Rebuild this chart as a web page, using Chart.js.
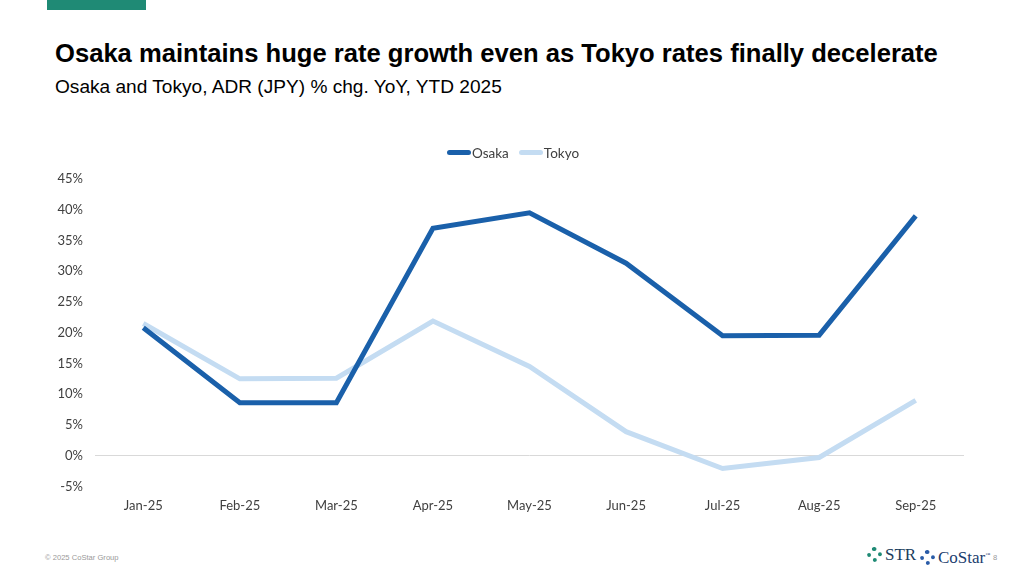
<!DOCTYPE html>
<html>
<head>
<meta charset="utf-8">
<script src="https://cdn.jsdelivr.net/npm/chart.js@4"></script>
<style>
  html, body { margin: 0; padding: 0; background: #fff; }
  body { width: 1024px; height: 576px; position: relative; overflow: hidden; font-family: "Liberation Sans", Arial, sans-serif; }
  .bar { position: absolute; left: 47px; top: 0; width: 99px; height: 10px; background: #1f8a75; }
  .title { position: absolute; left: 55px; top: 39px; font-size: 25.6px; font-weight: bold; color: #000; white-space: nowrap; }
  .subtitle { position: absolute; left: 55px; top: 76px; font-size: 19.1px; color: #000; white-space: nowrap; }
  .chartbox { position: absolute; left: 40px; top: 139px; width: 930px; height: 387px; }
  .legend { position: absolute; top: 144px; left: 447px; font-family: Lato, "Open Sans", sans-serif; font-size: 13.5px; color: #404040; white-space: nowrap; line-height: 18px; }
  .legend span.item { display: inline-block; margin-right: 10px; }
  .legend span.sw { display: inline-block; width: 24px; height: 5px; border-radius: 3px; vertical-align: 3px; margin-right: 1px; }
  .copy { position: absolute; left: 45px; top: 553px; font-size: 7.6px; color: #9a9a9a; }
  .page { position: absolute; left: 993px; top: 553px; font-size: 7.6px; color: #9a9a9a; }
  .logo { position: absolute; top: 545px; font-family: "Liberation Serif", "DejaVu Serif", serif; font-size: 17px; line-height: 20px; white-space: nowrap; }
  .ring { display: inline-block; width: 15px; height: 15px; border-radius: 50%; border: 4px dotted; box-sizing: border-box; vertical-align: -2px; margin-right: 3px; }
  .str { left: 867px; color: #1a3d5c; }
  .str .ring { border-color: #1f8a75; }
  .costar { left: 920px; color: #1a3d6e; }
  .costar .ring { border-color: #2a5ca8; }
  .tm { font-size: 5px; vertical-align: super; }
</style>
</head>
<body>
<div class="bar"></div>
<div class="title">Osaka maintains huge rate growth even as Tokyo rates finally decelerate</div>
<div class="subtitle">Osaka and Tokyo, ADR (JPY) % chg. YoY, YTD 2025</div>
<div class="chartbox"><canvas id="c"></canvas></div>
<div class="legend" id="legend"></div>
<div class="copy">© 2025 CoStar Group</div>
<div class="logo str"><span class="ring"></span>STR</div>
<div class="logo costar"><span class="ring"></span>CoStar<span class="tm">™</span></div>
<div class="page">8</div>
<script>
const categories = ["Jan-25", "Feb-25", "Mar-25", "Apr-25", "May-25", "Jun-25", "Jul-25", "Aug-25", "Sep-25"];
const seriesNames = ["Osaka", "Tokyo"];
const osaka = [20.8, 8.6, 8.6, 37.0, 39.5, 31.3, 19.5, 19.6, 39.0];
const tokyo = [21.5, 12.5, 12.6, 21.9, 14.5, 3.9, -2.1, -0.3, 9.0];
const yTicks = [-5, 0, 5, 10, 15, 20, 25, 30, 35, 40, 45];
const colors = ['#1a60aa', '#c4dcf2'];

const tickFont = { family: "Lato, 'Open Sans', sans-serif", size: 13 };

const chart = new Chart(document.getElementById('c'), {
  type: 'line',
  data: {
    labels: categories,
    datasets: [
      { label: seriesNames[0], data: osaka, borderColor: colors[0], backgroundColor: colors[0], borderWidth: 5, pointRadius: 0, tension: 0, borderJoinStyle: 'miter' },
      { label: seriesNames[1], data: tokyo, borderColor: colors[1], backgroundColor: colors[1], borderWidth: 5, pointRadius: 0, tension: 0, borderJoinStyle: 'miter' }
    ]
  },
  options: {
    responsive: true,
    maintainAspectRatio: false,
    animation: false,
    layout: { padding: { top: 40, right: 6, bottom: 0, left: 0 } },
    plugins: {
      legend: { display: false },
      tooltip: { enabled: false }
    },
    scales: {
      x: {
        offset: true,
        grid: { display: false, drawTicks: false },
        border: { display: false },
        ticks: { color: '#404040', font: tickFont, padding: 12, maxRotation: 0 }
      },
      y: {
        min: -5, max: 45,
        afterBuildTicks(axis) { axis.ticks = yTicks.map(v => ({ value: v })); },
        afterFit(axis) { axis.width = 55; },
        grid: {
          drawTicks: false,
          color: ctx => (ctx.tick && ctx.tick.value === 0) ? '#d9d9d9' : 'rgba(0,0,0,0)',
          lineWidth: 1
        },
        border: { display: false },
        ticks: { color: '#404040', font: tickFont, padding: 12, callback: v => v + '%' }
      }
    }
  }
});

const lg = document.getElementById('legend');
chart.data.datasets.forEach(ds => {
  const it = document.createElement('span');
  it.className = 'item';
  const sw = document.createElement('span');
  sw.className = 'sw';
  sw.style.background = ds.borderColor;
  it.appendChild(sw);
  it.appendChild(document.createTextNode(ds.label));
  lg.appendChild(it);
});
</script>
</body>
</html>
